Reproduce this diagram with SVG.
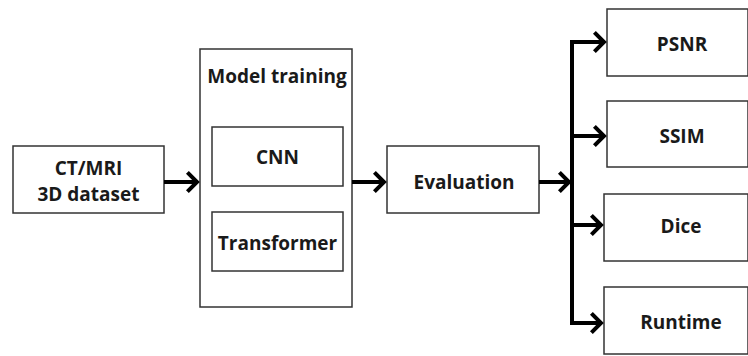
<svg xmlns="http://www.w3.org/2000/svg" width="748" height="356" viewBox="0 0 748 356">
<defs>
<style>
.box{fill:#fff;stroke:#333;stroke-width:1.5}
.t{font-family:"Open Sans","Noto Sans",sans-serif;font-weight:bold;font-size:19px;fill:#1a1a1a;text-anchor:middle;dominant-baseline:central}
.c{fill:none;stroke:#000;stroke-width:4}
</style>
<marker id="ah" markerWidth="4" markerHeight="6" refX="3" refY="3" orient="auto" markerUnits="strokeWidth" viewBox="0 0 4 6">
<path d="M0.6,0.6 L3,3 L0.6,5.4" fill="none" stroke="#000" stroke-width="1"/>
</marker>
</defs>
<rect width="748" height="356" fill="#fff"/>
<g id="dataset"><rect class="box" x="13" y="146" width="151" height="67"/><text class="t" x="88.5" y="168">CT/MRI</text><text class="t" x="88.5" y="194">3D dataset</text></g>
<g id="training"><rect class="box" x="200" y="49" width="152" height="258"/><text class="t" x="277" y="76">Model training</text></g>
<g id="cnn"><rect class="box" x="212" y="127" width="131" height="59"/><text class="t" x="277.5" y="157">CNN</text></g>
<g id="transformer"><rect class="box" x="212" y="212" width="131" height="59"/><text class="t" x="277.5" y="243">Transformer</text></g>
<g id="evaluation"><rect class="box" x="387" y="146" width="152" height="67"/><text class="t" x="464" y="182">Evaluation</text></g>
<g id="psnr"><rect class="box" x="607" y="9" width="141" height="67"/><text class="t" x="682" y="44">PSNR</text></g>
<g id="ssim"><rect class="box" x="607" y="101" width="141" height="66"/><text class="t" x="682" y="136">SSIM</text></g>
<g id="dice"><rect class="box" x="604" y="194" width="144" height="67"/><text class="t" x="681" y="226">Dice</text></g>
<g id="runtime"><rect class="box" x="604" y="287" width="144" height="67"/><text class="t" x="681" y="322">Runtime</text></g>
<g id="connectors">
<line class="c" x1="164" y1="182" x2="197" y2="182" marker-end="url(#ah)"/>
<line class="c" x1="352" y1="182" x2="384" y2="182" marker-end="url(#ah)"/>
<line class="c" x1="539" y1="182" x2="569" y2="182" marker-end="url(#ah)"/>
<line class="c" x1="572" y1="40" x2="572" y2="325"/>
<line class="c" x1="570" y1="42" x2="604" y2="42" marker-end="url(#ah)"/>
<line class="c" x1="570" y1="136" x2="604" y2="136" marker-end="url(#ah)"/>
<line class="c" x1="570" y1="225" x2="601" y2="225" marker-end="url(#ah)"/>
<line class="c" x1="570" y1="323" x2="601" y2="323" marker-end="url(#ah)"/>
</g>
</svg>
